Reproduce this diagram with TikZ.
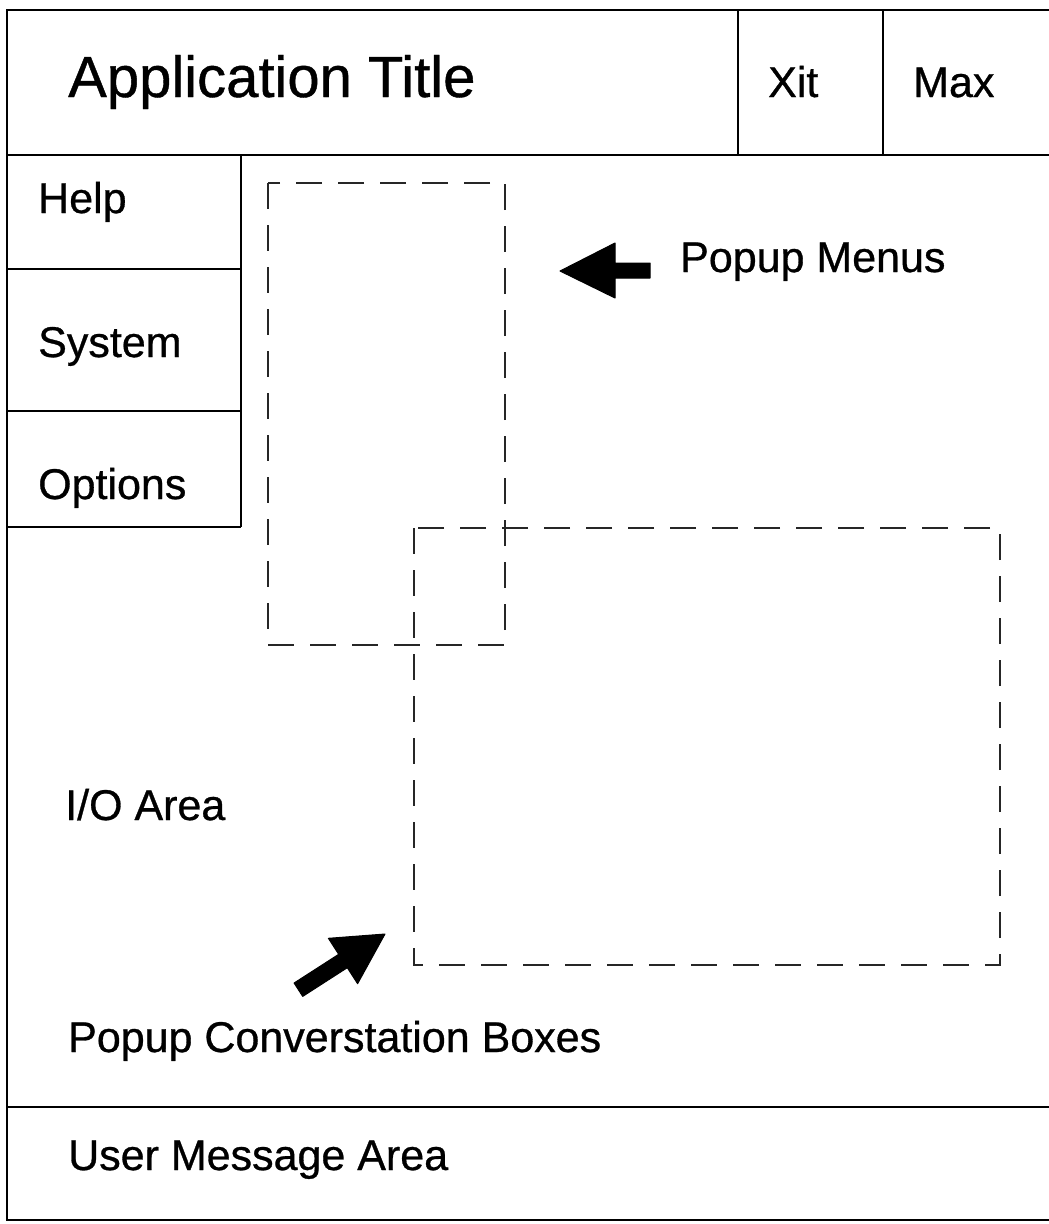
\documentclass[tikz,border=0pt]{standalone}
\usepackage{fontspec}
\setmainfont{Liberation Sans}[FakeBold=0.7]
\begin{document}
\begin{tikzpicture}[x=1pt,y=-1pt,
  frame/.style={line width=2pt,black},
  popup/.style={line width=1.5pt,black!85,dash pattern=on 26pt off 16pt},
  label/.style={anchor=base west,inner sep=0pt,font=\fontsize{43}{50}\selectfont},
  titlelabel/.style={anchor=base west,inner sep=0pt,font=\fontsize{58}{66}\selectfont},
  blockarrow/.style={fill=black,draw=black,line width=1pt,line join=round}]
\useasboundingbox (0,0) rectangle (1049,1224);

% window frame (open on the right)
\draw[frame] (1049,10) -- (7,10) -- (7,1220) -- (1049,1220);
% title bar
\draw[frame] (7,155) -- (1049,155);
\draw[frame] (738,10) -- (738,155);
\draw[frame] (883,10) -- (883,155);
% menu column
\draw[frame] (241,155) -- (241,527);
\draw[frame] (7,269) -- (241,269);
\draw[frame] (7,411) -- (241,411);
\draw[frame] (7,527) -- (241,527);
% message area separator
\draw[frame] (7,1107) -- (1049,1107);

% popup outlines
\draw[popup] (268,183) rectangle (505,645);
\draw[popup] (414,528) rectangle (1000,965);

% texts
\node[titlelabel] (title) at (68,97) {Application Title};
\node[label] (xit) at (768,97) {Xit};
\node[label] (max) at (913,97) {Max};
\node[label] (help) at (38,213) {Help};
\node[label] (system) at (38,357) {System};
\node[label] (options) at (38,499) {Options};
\node[label] (menus) at (680,272) {Popup Menus};
\node[label] (io) at (65,820) {I/O Area};
\node[label] (boxes) at (68,1052) {Popup Converstation Boxes};
\node[label] (msg) at (68,1170) {User Message Area};

% block arrows
\filldraw[blockarrow] (560,271) -- (615,243) -- (615,263) -- (650,263)
  -- (650,278) -- (615,278) -- (615,298) -- cycle;
\filldraw[blockarrow] (385,934) -- (357.6,983.7) -- (347.3,967.7)
  -- (302.7,996.4) -- (294.1,983) -- (338.7,954.3) -- (328.4,938.3) -- cycle;
\end{tikzpicture}
\end{document}
